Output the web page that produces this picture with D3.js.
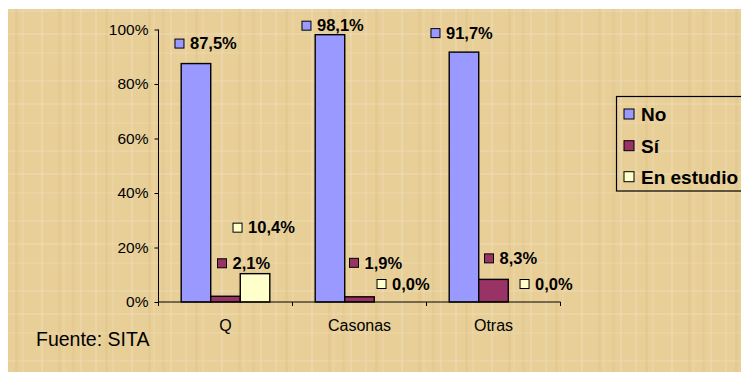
<!DOCTYPE html>
<html>
<head>
<meta charset="utf-8">
<script src="https://cdn.jsdelivr.net/npm/d3@7"></script>
<style>
  body { margin: 0; background: #fff; }
  svg { display: block; font-family: "Liberation Sans", Arial, sans-serif; }
</style>
</head>
<body>
<svg width="741" height="372"></svg>
<script>
// data
var categories = ["Q", "Casonas", "Otras"];
var seriesNames = ["No", "Sí", "En estudio"];
var noValues = [87.5, 98.1, 91.7];
var siValues = [2.1, 1.9, 8.3];
var estudioValues = [10.4, 0.0, 0.0];
var yTicks = [0, 20, 40, 60, 80, 100];
var seriesColors = ["#9999FF", "#993366", "#FFFFCC"];

// label nudges (dx from bar center, dy from bar top), per series per category
var labelNudge = [
  [[-21, -20], [-28, -9], [-33, -19]],
  [[-8, -33], [-10, -34], [-9, -21]],
  [[-22, -46], [-12, -18], [-3, -18]]
];

var svg = d3.select("svg"),
    width = +svg.attr("width"),
    height = +svg.attr("height");

var locale = d3.formatLocale({decimal: ",", thousands: ".", grouping: [3], currency: ["", "€"]});
var fmt = locale.format(".1f");

// parchment background
var defs = svg.append("defs");
var pat = defs.append("pattern")
  .attr("id", "paper")
  .attr("patternUnits", "userSpaceOnUse")
  .attr("width", 90).attr("height", 70);
pat.append("rect").attr("width", 90).attr("height", 70).attr("fill", "#E8CF98");
[[5, 0.12], [22, 0.08], [41, 0.14], [63, 0.09], [80, 0.12]].forEach(function(d) {
  pat.append("rect").attr("x", d[0]).attr("y", 0).attr("width", 2).attr("height", 70)
    .attr("fill", "#fff").attr("opacity", d[1]);
});
[[10, 0.1], [33, 0.12], [52, 0.08]].forEach(function(d) {
  pat.append("rect").attr("x", 0).attr("y", d[0]).attr("width", 90).attr("height", 2)
    .attr("fill", "#fff").attr("opacity", d[1]);
});
[[15, 0.08], [58, 0.07], [72, 0.05]].forEach(function(d) {
  pat.append("rect").attr("x", d[0]).attr("y", 0).attr("width", 3).attr("height", 70)
    .attr("fill", "#b08840").attr("opacity", d[1]);
});

svg.append("rect")
  .attr("x", 8).attr("y", 9)
  .attr("width", width - 8).attr("height", height - 9)
  .attr("fill", "url(#paper)");

var y = d3.scaleLinear().domain([0, 100]).range([302, 29.5]);
var x0 = d3.scaleBand().domain(categories).range([158.5, 560.5]);
var x1 = d3.scaleBand().domain(seriesNames).range([22.7, x0.bandwidth() - 22.7]);

var seriesValues = [noValues, siValues, estudioValues];
var data = [];
seriesValues.forEach(function(vals, si) {
  vals.forEach(function(v, ci) {
    data.push({series: seriesNames[si], si: si, cat: categories[ci], ci: ci, value: v});
  });
});

// axes
var yAxis = d3.axisLeft(y).tickValues(yTicks).tickSize(4).tickPadding(6)
  .tickFormat(function(d) { return d + "%"; });
var gy = svg.append("g").attr("transform", "translate(158.5,0)").call(yAxis);
gy.selectAll("text").attr("font-size", "15.5px").attr("fill", "#000").attr("font-family", null);
gy.selectAll("line, path").attr("stroke", "#000");
gy.select(".domain").attr("d", "M0," + y(100) + "V" + y(0));

// bars
svg.append("g").selectAll("rect")
  .data(data)
  .enter().append("rect")
  .attr("x", function(d) { return x0(d.cat) + x1(d.series); })
  .attr("y", function(d) { return y(d.value); })
  .attr("width", x1.bandwidth())
  .attr("height", function(d) { return y(0) - y(d.value); })
  .attr("fill", function(d) { return seriesColors[d.si]; })
  .attr("stroke", "#000")
  .attr("stroke-width", 1.4);

// x axis
var gx = svg.append("g").attr("transform", "translate(0," + y(0) + ")");
gx.append("line").attr("x1", 158.5).attr("x2", 560.5).attr("stroke", "#000").attr("stroke-width", 1.2);
var bounds = categories.map(function(c) { return x0(c); }).concat([x0(categories[categories.length - 1]) + x0.bandwidth()]);
gx.selectAll(".tk").data(bounds).enter().append("line")
  .attr("x1", function(d) { return d; }).attr("x2", function(d) { return d; })
  .attr("y1", 0).attr("y2", 4).attr("stroke", "#000");
gx.selectAll("text").data(categories).enter().append("text")
  .attr("x", function(d) { return x0(d) + x0.bandwidth() / 2; })
  .attr("y", 29)
  .attr("text-anchor", "middle")
  .attr("font-size", "16px")
  .text(function(d) { return d; });

// data labels
var lab = svg.append("g").selectAll("g")
  .data(data)
  .enter().append("g")
  .attr("transform", function(d) {
    var n = labelNudge[d.si][d.ci];
    var cx = x0(d.cat) + x1(d.series) + x1.bandwidth() / 2;
    return "translate(" + (cx + n[0]) + "," + (y(d.value) + n[1]) + ")";
  });
lab.append("rect")
  .attr("x", 0).attr("y", -4.5).attr("width", 9).attr("height", 9)
  .attr("fill", function(d) { return seriesColors[d.si]; })
  .attr("stroke", "#000").attr("stroke-width", 1);
lab.append("text")
  .attr("x", 15).attr("y", 5.8)
  .attr("font-size", "16.5px").attr("font-weight", "bold")
  .text(function(d) { return fmt(d.value) + "%"; });

// legend
var legend = svg.append("g");
legend.append("rect")
  .attr("x", 616.5).attr("y", 96.5).attr("width", 140).attr("height", 94.5)
  .attr("fill", "none").attr("stroke", "#000").attr("stroke-width", 1.2);
var li = legend.selectAll("g.item").data(seriesNames).enter().append("g")
  .attr("transform", function(d, i) { return "translate(624," + [114, 145.7, 176.7][i] + ")"; });
li.append("rect").attr("x", 0).attr("y", -5).attr("width", 10).attr("height", 10)
  .attr("fill", function(d, i) { return seriesColors[i]; })
  .attr("stroke", "#000");
li.append("text").attr("x", 17).attr("y", 6.8)
  .attr("font-size", "19px").attr("font-weight", "bold")
  .text(function(d) { return d; });

// source
svg.append("text")
  .attr("x", 36).attr("y", 346)
  .attr("font-size", "19.5px")
  .text("Fuente: SITA");
</script>
</body>
</html>
